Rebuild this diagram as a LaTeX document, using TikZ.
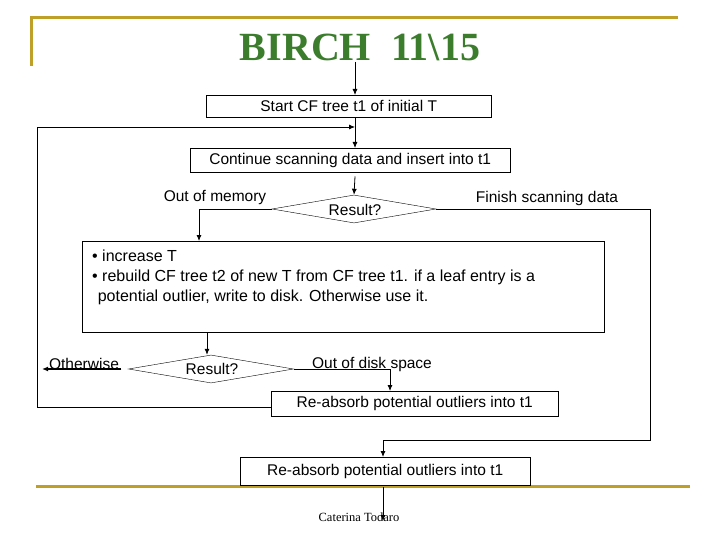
\documentclass[tikz,border=0pt]{standalone}
\usepackage{fontspec}
\setmainfont{Liberation Sans}
\newfontfamily\seriff{Liberation Serif}
\usetikzlibrary{shapes.geometric,arrows.meta}
\definecolor{gold}{RGB}{190,160,40}
\definecolor{titlegreen}{RGB}{60,125,45}
\begin{document}
\begin{tikzpicture}[x=1pt,y=-1pt,
  box/.style={draw,thin,inner sep=0pt,anchor=north west},
  lbl/.style={font=\fontsize{15.5}{20}\selectfont,inner sep=0pt},
  arr/.style={-{Latex[length=6pt,width=5pt]},thick},
  ln/.style={thick}]
\useasboundingbox (0,0) rectangle (720,540);
\draw[gold,line width=3pt] (30,18) -- (678,18);
\draw[gold,line width=3pt] (31,17) -- (31,66);
\draw[gold,line width=3pt] (36,486) -- (690,486);
\node (title) at (360,47) {\seriff\bfseries\color{titlegreen}\fontsize{40}{44}\selectfont BIRCH\ \ 11\textbackslash 15};
\node[box,minimum width=285pt,minimum height=22pt] (b1) at (206,95) {};
\node[lbl] at (b1.center) {Start CF tree t1 of initial T};
\node[box,minimum width=320pt,minimum height=24pt] (b2) at (190,148) {};
\node[lbl] at (b2.center) {Continue scanning data and insert into t1};
\node[draw,thin,diamond,aspect=5.9,minimum width=164pt,minimum height=28pt,inner sep=0pt] (d1) at (354,209) {};
\node[lbl] at (355,210) {Result?};
\node[lbl] at (215,198) {Out of memory};
\node[lbl] at (547,198) {Finish scanning data};
\node[box,minimum width=522pt,minimum height=91pt] (b3) at (82,241) {};
\node[lbl,anchor=north west,align=left,font=\fontsize{16}{20}\selectfont] at (92,250) {\textbullet\ increase T\\\textbullet\ rebuild CF tree t2 of new T from CF tree t1. if a leaf entry is a\\\hphantom{\textbullet}potential outlier, write to disk. Otherwise use it.};
\node[draw,thin,diamond,aspect=5.9,minimum width=165pt,minimum height=28pt,inner sep=0pt] (d2) at (211,369) {};
\node[lbl] at (212,369) {Result?};
\node[lbl] at (84,364) {Otherwise};
\node[lbl] at (372,364) {Out of disk space};
\node[box,minimum width=287pt,minimum height=25pt] (b4) at (271,391) {};
\node[lbl] at (b4.center) {Re-absorb potential outliers into t1};
\node[box,minimum width=290pt,minimum height=28pt] (b5) at (240,457) {};
\node[lbl] at (b5.center) {Re-absorb potential outliers into t1};
\node[inner sep=0pt] (cap) at (359,517) {\seriff\fontsize{12.5}{13}\selectfont Caterina Todaro};
\coordinate (t0) at (355,62);
\coordinate (loopin) at (355,127);
\coordinate (e1) at (383,521);
\coordinate (oth) at (42,369);
% connectors
\draw[arr] (t0) -- (b1.north -| t0);
\draw[ln] (b1.south -| t0) -- (loopin);
\draw[arr] (loopin) -- (b2.north -| t0);
\draw[arr] (b2.south -| t0) ++(0,4) -- (d1.north);
\draw[arr] (d1.west) -- (199,209) -- (b3.north -| 199,0);
\draw[arr] (d1.east) -- (650,209) -- (650,440) -- (383,440) -- (b5.north -| 383,0);
\draw[arr] (b3.south -| 207,0) -- (d2.north -| 207,0);
\draw[arr,line width=1.6pt] (d2.west) ++(-7,0) -- (oth);
\draw[arr] (d2.east) -- (390,369) -- (b4.north -| 390,0);
\draw[arr] (b4.west |- 0,407) -- (37,407) -- (37,127) -- (loopin);
\draw[arr] (b5.south -| e1) ++(0,2) -- (e1);
\end{tikzpicture}
\end{document}
